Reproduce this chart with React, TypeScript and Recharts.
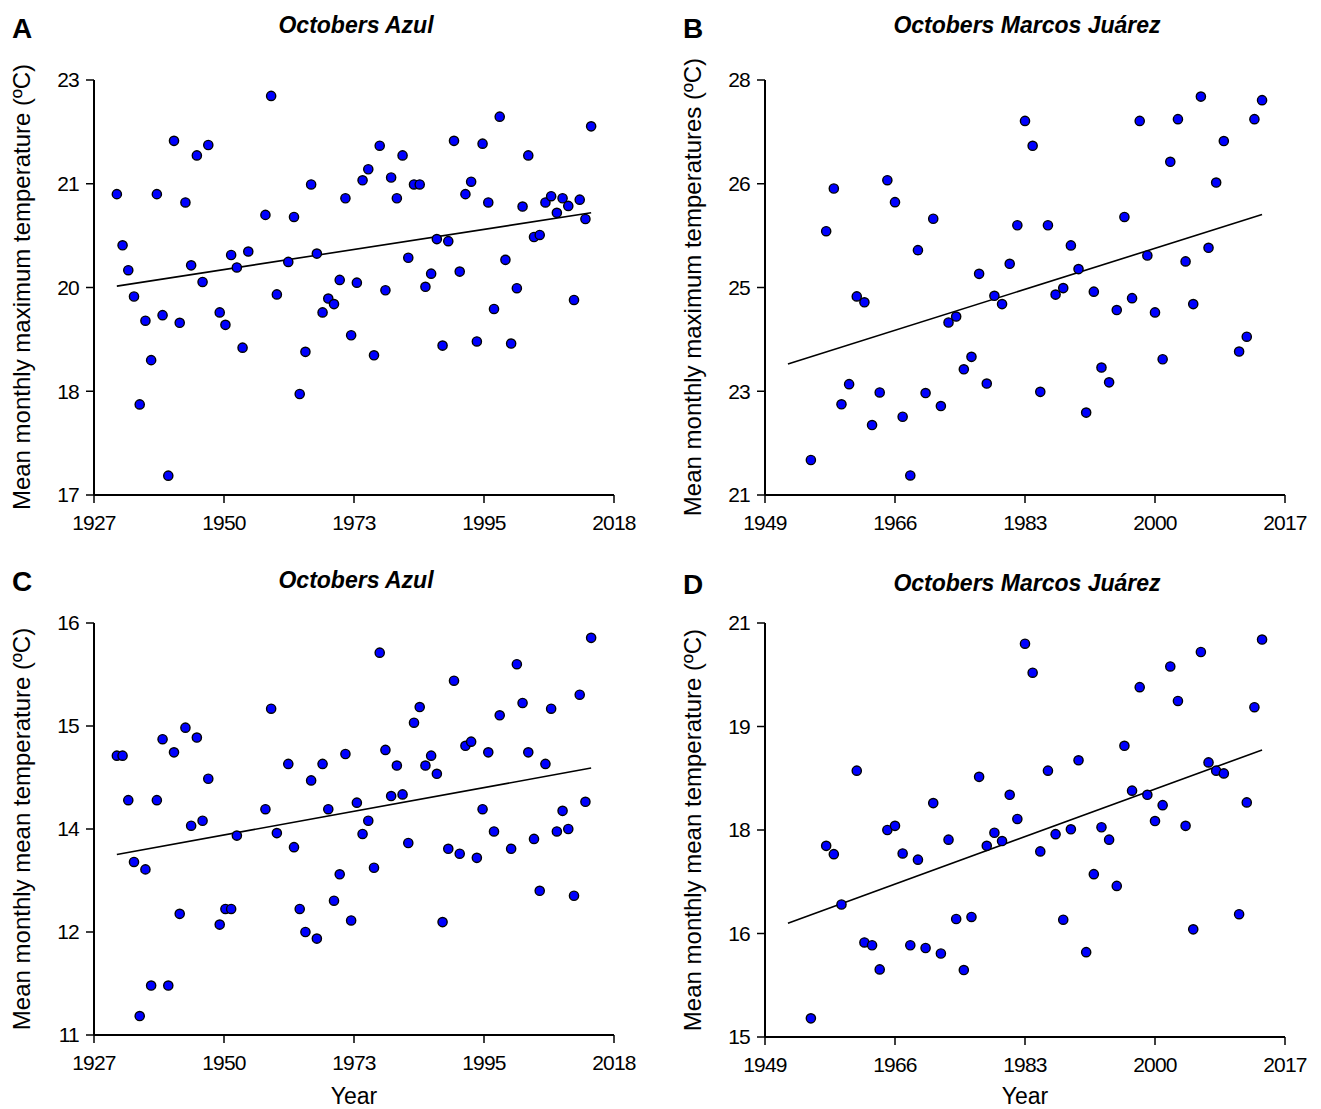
import { ScatterChart, Scatter, XAxis, YAxis } from "recharts"

// ── Data ──────────────────────────────────────────────────────
// A: Azul, October mean monthly maximum temperature
const yearsAzulMax = [
  1931, 1932, 1933, 1934, 1935, 1936, 1937, 1938, 1939, 1940, 1941, 1942, 1943, 1944, 1945, 1946, 1947,
  1949, 1950, 1951, 1952, 1953, 1954, 1957, 1958, 1959,
  1961, 1962, 1963, 1964, 1965, 1966, 1967, 1968, 1969, 1970,
  1971, 1972, 1973, 1974, 1975, 1976, 1977, 1978, 1979, 1980,
  1981, 1982, 1983, 1984, 1985, 1986, 1987, 1988, 1989, 1990,
  1991, 1992, 1993, 1994, 1995, 1996, 1997, 1998, 1999, 2000,
  2001, 2002, 2003, 2004, 2005, 2006, 2007, 2008, 2009, 2010,
  2011, 2012, 2013, 2014,
]
const tmaxAzul = [
  21.15, 20.41, 20.05, 19.67, 18.11, 19.32, 18.75, 21.15, 19.4, 17.08, 21.92, 19.29, 21.03, 20.12, 21.71, 19.88, 21.86,
  19.44, 19.26, 20.27, 20.09, 18.93, 20.32, 20.85, 22.57, 19.7,
  20.17, 20.82, 18.26, 18.87, 21.29, 20.29, 19.44, 19.64, 19.56, 19.91,
  21.09, 19.11, 19.87, 21.35, 21.51, 18.82, 21.85, 19.76, 21.39, 21.09,
  21.71, 20.23, 21.29, 21.29, 19.81, 20.0, 20.5, 18.96, 20.47, 21.92,
  20.03, 21.15, 21.33, 19.02, 21.88, 21.03, 19.49, 22.27, 20.2, 18.99,
  19.79, 20.97, 21.71, 20.53, 20.56, 21.03, 21.12, 20.88, 21.09, 20.98,
  19.62, 21.07, 20.79, 22.13,
]
const trendAzulMax = [
  { x: 1931, y: 19.82 },
  { x: 2014, y: 20.88 },
]

// B: Marcos Juárez, October mean monthly maximum temperature
const yearsMJMax = [
  1955, 1957, 1958, 1959, 1960, 1961, 1962, 1963, 1964, 1965, 1966,
  1967, 1968, 1969, 1970, 1971, 1972, 1973, 1974, 1975, 1976,
  1977, 1978, 1979, 1980, 1981, 1982, 1983, 1984, 1985, 1986,
  1987, 1988, 1989, 1990, 1991, 1992, 1993, 1994, 1995, 1996,
  1997, 1998, 1999, 2000, 2001, 2002, 2003, 2004, 2005, 2006,
  2007, 2008, 2009, 2011, 2012, 2013, 2014,
]
const tmaxMJ = [
  21.59, 25.45, 26.17, 22.53, 22.87, 24.35, 24.25, 22.18, 22.73, 26.31, 25.94,
  22.32, 21.33, 25.13, 22.72, 25.66, 22.5, 23.91, 24.01, 23.12, 23.33,
  24.73, 22.88, 24.36, 24.22, 24.9, 25.55, 27.31, 26.89, 22.74, 25.55,
  24.38, 24.49, 25.21, 24.81, 22.39, 24.43, 23.15, 22.9, 24.12, 25.69,
  24.32, 27.31, 25.04, 24.08, 23.29, 26.62, 27.34, 24.94, 24.22, 27.72,
  25.17, 26.27, 26.97, 23.42, 23.67, 27.34, 27.66,
]
const trendMJMax = [
  { x: 1952, y: 23.21 },
  { x: 2014, y: 25.73 },
]

// C: Azul, October mean monthly mean temperature
const yearsAzulMean = [
  1931, 1932, 1933, 1934, 1935, 1936, 1937, 1938, 1939, 1940, 1941, 1942, 1943, 1944, 1945, 1946, 1947,
  1949, 1950, 1951, 1952, 1957, 1958, 1959,
  1961, 1962, 1963, 1964, 1965, 1966, 1967, 1968, 1969, 1970,
  1971, 1972, 1973, 1974, 1975, 1976, 1977, 1978, 1979, 1980,
  1981, 1982, 1983, 1984, 1985, 1986, 1987, 1988, 1989, 1990,
  1991, 1992, 1993, 1994, 1995, 1996, 1997, 1998,
  2000, 2001, 2002, 2003, 2004, 2005, 2006, 2007, 2008, 2009, 2010,
  2011, 2012, 2013, 2014,
]
const tmeanAzul = [
  14.39, 14.39, 13.85, 13.1, 11.23, 13.01, 11.6, 13.85, 14.59, 11.6, 14.43, 12.47, 14.73, 13.54, 14.61, 13.6, 14.11,
  12.34, 12.53, 12.53, 13.42, 13.74, 14.96, 13.45,
  14.29, 13.28, 12.53, 12.25, 14.09, 12.17, 14.29, 13.74, 12.63, 12.95,
  14.41, 12.39, 13.82, 13.44, 13.6, 13.03, 15.64, 14.46, 13.9, 14.27,
  13.92, 13.33, 14.79, 14.98, 14.27, 14.39, 14.17, 12.37, 13.26, 15.3,
  13.2, 14.51, 14.56, 13.15, 13.74, 14.43, 13.47, 14.88,
  13.26, 15.5, 15.03, 14.43, 13.38, 12.75, 14.29, 14.96, 13.47, 13.72, 13.5,
  12.69, 15.13, 13.83, 15.82,
]
const trendAzulMean = [
  { x: 1931, y: 13.19 },
  { x: 2014, y: 14.24 },
]

// D: Marcos Juárez, October mean monthly mean temperature
const yearsMJMean = [
  1955, 1957, 1958, 1959,
  1961, 1962, 1963, 1964, 1965, 1966, 1967, 1968, 1969, 1970,
  1971, 1972, 1973, 1974, 1975, 1976, 1977, 1978, 1979, 1980,
  1981, 1982, 1983, 1984, 1985, 1986, 1987, 1988, 1989, 1990,
  1991, 1992, 1993, 1994, 1995, 1996, 1997, 1998, 1999, 2000,
  2001, 2002, 2003, 2004, 2005, 2006, 2007, 2008, 2009,
  2011, 2012, 2013, 2014,
]
const tmeanMJ = [
  15.07, 17.57, 17.45, 16.72,
  18.66, 16.17, 16.13, 15.78, 17.8, 17.86, 17.46, 16.13, 17.37, 16.09,
  18.19, 16.01, 17.66, 16.51, 15.77, 16.54, 18.57, 17.57, 17.76, 17.64,
  18.31, 17.96, 20.5, 20.08, 17.49, 18.66, 17.74, 16.5, 17.81, 18.81,
  16.03, 17.16, 17.84, 17.66, 16.99, 19.02, 18.37, 19.87, 18.31, 17.93,
  18.16, 20.17, 19.67, 17.86, 16.36, 20.38, 18.78, 18.66, 18.62,
  16.58, 18.2, 19.58, 20.56,
]
const trendMJMean = [
  { x: 1952, y: 16.45 },
  { x: 2014, y: 18.96 },
]

// ── Axis ticks (labels are rounded values) ────────────────────
const azulYearTicks = [1927, 1949.75, 1972.5, 1995.25, 2018]
const mjYearTicks = [1949, 1966, 1983, 2000, 2017]
const azulMaxTicks = [16.8, 18.3, 19.8, 21.3, 22.8]
const mjMaxTicks = [21, 22.75, 24.5, 26.25, 28]
const azulMeanTicks = [11, 12.25, 13.5, 14.75, 16]
const mjMeanTicks = [14.8, 16.3, 17.8, 19.3, 20.8]

const toPoints = (xs: number[], ys: number[]) => xs.map((x, i) => ({ x, y: ys[i] }))

const FONT = "'Liberation Sans', Arial, Helvetica, sans-serif"
const AXIS_LINE = { stroke: "#000", strokeWidth: 2 }
const TICK_LINE = { stroke: "#000", strokeWidth: 1.5 }
const TICK_TEXT = { fontSize: 21, fill: "#000", letterSpacing: -0.8 }

const roundTick = (v: number) => String(Math.round(v))

function BlueDot(props: { cx?: number; cy?: number }) {
  const { cx, cy } = props
  if (cx == null || cy == null) return <g />
  return <circle cx={cx} cy={cy} r={4.6} fill="#0000ff" stroke="#000" strokeWidth={1.4} />
}

const NoMarker = () => <g />

interface PanelProps {
  left: number
  top: number
  width: number
  height: number
  margin: { top: number; right: number; bottom: number; left: number }
  xTicks: number[]
  yTicks: number[]
  points: { x: number; y: number }[]
  trend: { x: number; y: number }[]
}

function Panel({ left, top, width, height, margin, xTicks, yTicks, points, trend }: PanelProps) {
  return (
    <div style={{ position: "absolute", left, top }}>
      <ScatterChart width={width} height={height} margin={margin}>
        <XAxis
          type="number"
          dataKey="x"
          domain={[xTicks[0], xTicks[xTicks.length - 1]]}
          ticks={xTicks}
          interval={0}
          tickFormatter={roundTick}
          tickSize={8}
          tickMargin={12}
          height={40}
          axisLine={AXIS_LINE}
          tickLine={TICK_LINE}
          tick={TICK_TEXT}
          allowDataOverflow
        />
        <YAxis
          type="number"
          dataKey="y"
          domain={[yTicks[0], yTicks[yTicks.length - 1]]}
          ticks={yTicks}
          interval={0}
          tickFormatter={roundTick}
          tickSize={8}
          tickMargin={7}
          width={70}
          axisLine={AXIS_LINE}
          tickLine={TICK_LINE}
          tick={TICK_TEXT}
          allowDataOverflow
        />
        <Scatter
          data={trend}
          line={{ stroke: "#000", strokeWidth: 1.6 }}
          shape={NoMarker}
          isAnimationActive={false}
        />
        <Scatter data={points} shape={BlueDot} isAnimationActive={false} />
      </ScatterChart>
    </div>
  )
}

export default function App() {
  const titleStyle = { fontSize: 23, fontWeight: "bold" as const, fontStyle: "italic" as const }
  return (
    <div
      style={{
        position: "absolute",
        left: 0,
        top: 0,
        width: 1321,
        height: 1109,
        background: "#fff",
        fontFamily: FONT,
        color: "#000",
      }}
    >
      <Panel
        left={0}
        top={0}
        width={660}
        height={555}
        margin={{ top: 80, right: 46, bottom: 20, left: 24 }}
        xTicks={azulYearTicks}
        yTicks={azulMaxTicks}
        points={toPoints(yearsAzulMax, tmaxAzul)}
        trend={trendAzulMax}
      />
      <Panel
        left={660}
        top={0}
        width={661}
        height={555}
        margin={{ top: 80, right: 36, bottom: 20, left: 35 }}
        xTicks={mjYearTicks}
        yTicks={mjMaxTicks}
        points={toPoints(yearsMJMax, tmaxMJ)}
        trend={trendMJMax}
      />
      <Panel
        left={0}
        top={555}
        width={660}
        height={554}
        margin={{ top: 68, right: 46, bottom: 34, left: 24 }}
        xTicks={azulYearTicks}
        yTicks={azulMeanTicks}
        points={toPoints(yearsAzulMean, tmeanAzul)}
        trend={trendAzulMean}
      />
      <Panel
        left={660}
        top={555}
        width={661}
        height={554}
        margin={{ top: 68, right: 36, bottom: 32, left: 35 }}
        xTicks={mjYearTicks}
        yTicks={mjMeanTicks}
        points={toPoints(yearsMJMean, tmeanMJ)}
        trend={trendMJMean}
      />

      {/* panel letters, titles and axis titles */}
      <svg
        width={1321}
        height={1109}
        style={{ position: "absolute", left: 0, top: 0, pointerEvents: "none", fontFamily: FONT }}
      >
        <text x={12} y={38} fontSize={28} fontWeight="bold">A</text>
        <text x={683} y={38} fontSize={28} fontWeight="bold">B</text>
        <text x={12} y={591} fontSize={28} fontWeight="bold">C</text>
        <text x={683} y={594} fontSize={28} fontWeight="bold">D</text>

        <text x={356} y={33} textAnchor="middle" style={titleStyle}>Octobers Azul</text>
        <text x={1027} y={33} textAnchor="middle" style={titleStyle}>Octobers Marcos Juárez</text>
        <text x={356} y={588} textAnchor="middle" style={titleStyle}>Octobers Azul</text>
        <text x={1027} y={591} textAnchor="middle" style={titleStyle}>Octobers Marcos Juárez</text>

        <text x={30} y={287} fontSize={24} textAnchor="middle" transform="rotate(-90 30 287)">
          Mean monthly maximum temperature (ºC)
        </text>
        <text x={701} y={287} fontSize={24} textAnchor="middle" transform="rotate(-90 701 287)">
          Mean monthly maximum temperatures (ºC)
        </text>
        <text x={30} y={829} fontSize={24} textAnchor="middle" transform="rotate(-90 30 829)">
          Mean monthly mean temperature (ºC)
        </text>
        <text x={701} y={830} fontSize={24} textAnchor="middle" transform="rotate(-90 701 830)">
          Mean monthly mean temperature (ºC)
        </text>

        <text x={354} y={1104} fontSize={23} textAnchor="middle">Year</text>
        <text x={1025} y={1104} fontSize={23} textAnchor="middle">Year</text>
      </svg>
    </div>
  )
}
